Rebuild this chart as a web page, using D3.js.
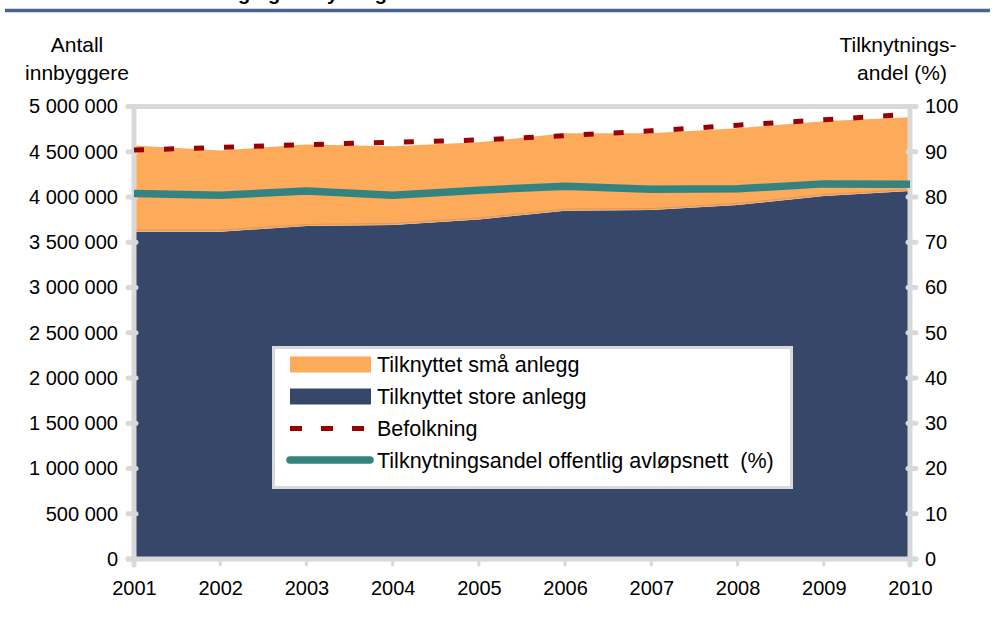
<!DOCTYPE html>
<html>
<head>
<meta charset="utf-8">
<script src="https://cdn.jsdelivr.net/npm/d3@7"></script>
<style>
  html, body { margin: 0; padding: 0; background: #ffffff; }
  svg { display: block; }
  text { font-family: "Liberation Sans", Arial, sans-serif; fill: #000; }
</style>
</head>
<body>
<svg id="chart" width="995" height="617"></svg>
<script>
// ---- data ----
const years = [2001, 2002, 2003, 2004, 2005, 2006, 2007, 2008, 2009, 2010];
const storeAnlegg = [3617000, 3617000, 3680000, 3691000, 3751000, 3849000, 3856000, 3912000, 4011000, 4066000];
const smaAnlegg   = [953000, 897000, 901000, 871000, 855000, 856000, 849000, 848000, 827000, 816000];
const befolkning  = [4519000, 4547000, 4579000, 4604000, 4630000, 4678000, 4731000, 4793000, 4853000, 4914000];
const tilknytningsandel = [80.8, 80.4, 81.3, 80.4, 81.5, 82.4, 81.7, 81.8, 82.9, 82.8];
const leftTicks  = [0, 500000, 1000000, 1500000, 2000000, 2500000, 3000000, 3500000, 4000000, 4500000, 5000000];
const rightTicks = [0, 10, 20, 30, 40, 50, 60, 70, 80, 90, 100];
const legendLabels = ["Tilknyttet små anlegg", "Tilknyttet store anlegg", "Befolkning", "Tilknytningsandel offentlig avløpsnett  (%)"];

const colors = { sma: "#FDAA5B", store: "#36476A", bef: "#990000", andel: "#338380", axis: "#D9D9D9" };

const svg = d3.select("#chart");
const fmt = d3.formatLocale({ decimal: ",", thousands: " ", grouping: [3], currency: ["", ""] }).format(",");

const x = d3.scaleLinear().domain([2001, 2010]).range([134, 910]);
const yL = d3.scaleLinear().domain([0, 5000000]).range([559, 106.5]);
const yR = d3.scaleLinear().domain([0, 100]).range([559, 106.5]);

// title (cut off at top in the original) and rule
svg.append("text").attr("x", 147).attr("y", 0)
  .style("font-weight", "bold").style("font-size", "20px")
  .text("Befolkning og tilknytning");
svg.append("line").attr("x1", 5).attr("x2", 990).attr("y1", 10.5).attr("y2", 10.5)
  .attr("stroke", "#4A6291").attr("stroke-width", 3.5);

// stacked areas
const rows = years.map((yr, i) => ({ year: yr, store: storeAnlegg[i], sma: smaAnlegg[i] }));
const stack = d3.stack().keys(["store", "sma"])(rows);
const area = d3.area().x(d => x(d.data.year)).y0(d => yL(d[0])).y1(d => yL(d[1]));
svg.append("g").selectAll("path").data(stack).join("path")
  .attr("d", area)
  .attr("fill", d => d.key === "store" ? colors.store : colors.sma);
// faint seam at the lower edge of the orange layer
svg.append("path")
  .attr("d", d3.line().x(d => x(d.data.year)).y(d => yL(d[0]))(stack[1]))
  .attr("transform", "translate(0,-1.5)")
  .attr("fill", "none").attr("stroke", "#C08C64").attr("stroke-width", 1).attr("opacity", 0.6);

// frame / axes lines
const frame = svg.append("g").attr("stroke", colors.axis).attr("stroke-width", 5).attr("stroke-linecap", "round");
frame.append("line").attr("x1", x(2001) - 6).attr("x2", x(2010) + 6).attr("y1", yL(5000000)).attr("y2", yL(5000000));
frame.append("line").attr("x1", x(2001)).attr("x2", x(2001)).attr("y1", yL(5000000)).attr("y2", yL(0) + 6);
frame.append("line").attr("x1", x(2010)).attr("x2", x(2010)).attr("y1", yR(100)).attr("y2", yR(0) + 6);
frame.append("line").attr("x1", x(2001) - 6).attr("x2", x(2010) + 6).attr("y1", yL(0)).attr("y2", yL(0));
// tick marks
frame.selectAll(".tl").data(leftTicks).join("line")
  .attr("x1", x(2001) - 6).attr("x2", x(2001) + 2).attr("y1", d => yL(d)).attr("y2", d => yL(d));
frame.selectAll(".tr").data(rightTicks).join("line")
  .attr("x1", x(2010) - 2).attr("x2", x(2010) + 6).attr("y1", d => yR(d)).attr("y2", d => yR(d));
frame.selectAll(".tx").data(years).join("line")
  .attr("x1", d => x(d)).attr("x2", d => x(d)).attr("y1", yL(0)).attr("y2", yL(0) + 6)
  .attr("stroke-width", 3);

// population line
svg.append("path")
  .attr("d", d3.line().x((d, i) => x(years[i])).y(d => yL(d))(befolkning))
  .attr("fill", "none").attr("stroke", colors.bef).attr("stroke-width", 5)
  .attr("stroke-dasharray", "10,20");

// percent line
svg.append("path")
  .attr("d", d3.line().x((d, i) => x(years[i])).y(d => yR(d))(tilknytningsandel))
  .attr("fill", "none").attr("stroke", colors.andel).attr("stroke-width", 7.5)
  .attr("stroke-linejoin", "round");

// axis labels via d3 axes
const fontSize = "20px";
const gL = svg.append("g").attr("transform", `translate(${x(2001)},0)`)
  .call(d3.axisLeft(yL).tickValues(leftTicks).tickFormat(fmt).tickSize(0).tickPadding(16));
const gR = svg.append("g").attr("transform", `translate(${x(2010)},0)`)
  .call(d3.axisRight(yR).tickValues(rightTicks).tickFormat(d3.format("d")).tickSize(0).tickPadding(15));
const gB = svg.append("g").attr("transform", `translate(0,${yL(0)})`)
  .call(d3.axisBottom(x).tickValues(years).tickFormat(d3.format("d")).tickSize(0).tickPadding(22));
[gL, gR, gB].forEach(g => {
  g.select(".domain").remove();
  g.selectAll("text").style("font-size", fontSize).style("font-family", '"Liberation Sans", Arial, sans-serif').attr("fill", "#000");
});

// axis titles
const tL = svg.append("text").attr("text-anchor", "middle").style("font-size", "21px");
tL.append("tspan").attr("x", 77).attr("y", 52).text("Antall");
tL.append("tspan").attr("x", 77).attr("y", 80).text("innbyggere");
const tR = svg.append("text").attr("text-anchor", "middle").style("font-size", "21px");
tR.append("tspan").attr("x", 898).attr("y", 52).text("Tilknytnings-");
tR.append("tspan").attr("x", 902).attr("y", 80).text("andel (%)");

// legend
const lg = svg.append("g");
lg.append("rect").attr("x", 273.5).attr("y", 347.5).attr("width", 518).attr("height", 140)
  .attr("fill", "#fff").attr("stroke", colors.axis).attr("stroke-width", 3);
const rowY = [364.5, 396.5, 428.5, 460];
lg.append("rect").attr("x", 290).attr("y", rowY[0] - 8).attr("width", 81).attr("height", 16).attr("fill", colors.sma);
lg.append("rect").attr("x", 290).attr("y", rowY[1] - 8).attr("width", 81).attr("height", 16).attr("fill", colors.store);
lg.append("line").attr("x1", 290).attr("x2", 371).attr("y1", rowY[2]).attr("y2", rowY[2])
  .attr("stroke", colors.bef).attr("stroke-width", 5).attr("stroke-dasharray", "12,19");
lg.append("line").attr("x1", 290).attr("x2", 370).attr("y1", rowY[3]).attr("y2", rowY[3])
  .attr("stroke", colors.andel).attr("stroke-width", 7.5).attr("stroke-linecap", "round");
lg.selectAll("text.lab").data(legendLabels).join("text")
  .attr("class", "lab").attr("x", 377).attr("y", (d, i) => rowY[i]).attr("dy", "0.35em")
  .style("font-size", "21.5px").style("white-space", "pre").text(d => d);
</script>
</body>
</html>
